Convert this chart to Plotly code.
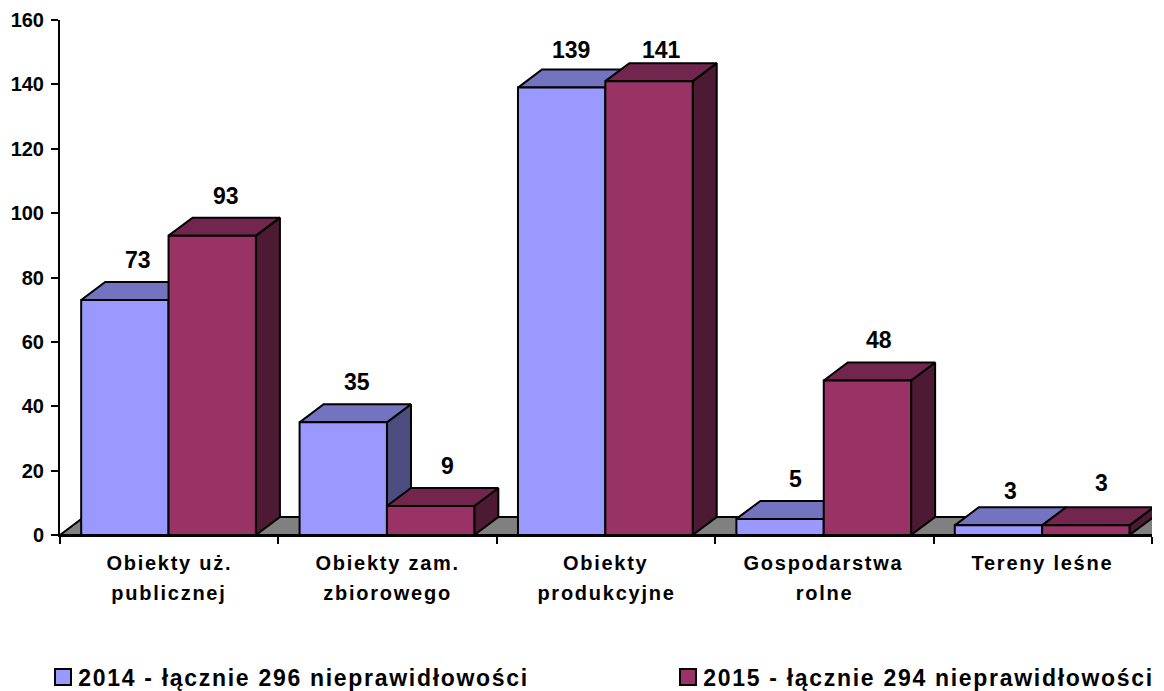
"""Inspection findings per object type, drawn as a pseudo-3D column chart."""

import plotly.graph_objects as go

FONT = "Liberation Sans"

# Data
category_lines = [
    ["Obiekty uż.", "publicznej"],
    ["Obiekty zam.", "zbiorowego"],
    ["Obiekty", "produkcyjne"],
    ["Gospodarstwa", "rolne"],
    ["Tereny leśne"],
]
series_names = [
    "2014 - łącznie 296 nieprawidłowości",
    "2015 - łącznie 294 nieprawidłowości",
]
values_2014 = [73, 35, 139, 5, 3]
values_2015 = [93, 9, 141, 48, 3]
y_ticks = [0, 20, 40, 60, 80, 100, 120, 140, 160]

# Colours per series: front, top, side
colors_2014 = ("#9999FF", "#7373BF", "#4D4D80")
colors_2015 = ("#993366", "#73264D", "#4D1A33")

# Plot area in pixels
PLOT_LEFT = 60
PLOT_RIGHT = 1152
PLOT_TOP = 20
PLOT_BOTTOM = 535

# Geometry in axis units (1 category = 218.4 px, 1 y unit = 3.219 px)
BAR_WIDTH = 0.4
BAR_START = 0.097
DEPTH_X = 0.11
DEPTH_Y = 5.6
LINE = {"color": "black", "width": 2}

# Legend swatch and text extents in pixels
legend_swatches = [(55, 71), (680, 696)]
legend_text_centers = [303, 928]
LEGEND_TOP = 669
LEGEND_BOTTOM = 685

LABEL_SIZE = 23
CATEGORY_SIZE = 20
LEGEND_SIZE = 23


def paper_x(px):
    return (px - PLOT_LEFT) / (PLOT_RIGHT - PLOT_LEFT)


def paper_y(px):
    return (PLOT_BOTTOM - px) / (PLOT_BOTTOM - PLOT_TOP)


def polygon(xs, ys, color):
    """Filled outline drawn in data coordinates."""
    return go.Scatter(
        x=xs + xs[:1],
        y=ys + ys[:1],
        mode="lines",
        fill="toself",
        fillcolor=color,
        line=LINE,
        cliponaxis=False,
        showlegend=False,
        hoverinfo="skip",
    )


def add_bar(fig, x0, value, colors):
    """Side, top and front faces of one column."""
    x1 = x0 + BAR_WIDTH
    front, top, side = colors
    fig.add_trace(
        polygon(
            [x1, x1 + DEPTH_X, x1 + DEPTH_X, x1],
            [0, DEPTH_Y, value + DEPTH_Y, value],
            side,
        )
    )
    fig.add_trace(
        polygon(
            [x0, x0 + DEPTH_X, x1 + DEPTH_X, x1],
            [value, value + DEPTH_Y, value + DEPTH_Y, value],
            top,
        )
    )
    fig.add_trace(polygon([x0, x0, x1, x1], [0, value, value, 0], front))


fig = go.Figure()

# Floor runs past the right edge of the page, as in the source chart
fig.add_trace(
    polygon(
        [0, DEPTH_X, 5 + DEPTH_X, 5],
        [0, DEPTH_Y, DEPTH_Y, 0],
        "#808080",
    )
)

for i in range(len(category_lines)):
    add_bar(fig, i + BAR_START, values_2014[i], colors_2014)
    add_bar(fig, i + BAR_START + BAR_WIDTH, values_2015[i], colors_2015)

annotations = []

# Value labels; the defaults sit 22 px above the back edge of the top face
label_gap = {(0, 2): 20, (1, 2): 13, (0, 4): 16, (1, 4): 24}
label_xshift = {
    (0, 0): 1,
    (1, 0): 2,
    (0, 1): 2,
    (1, 1): 5,
    (0, 2): -3,
    (0, 3): 3,
    (1, 4): 4,
}
for s, values in enumerate((values_2014, values_2015)):
    for i, value in enumerate(values):
        annotations.append(
            {
                "x": i + BAR_START + BAR_WIDTH * (s + 0.5) + DEPTH_X / 2,
                "y": value + DEPTH_Y,
                "xshift": label_xshift.get((s, i), 0),
                "yshift": label_gap.get((s, i), 22),
                "text": str(value),
                "showarrow": False,
                "yanchor": "middle",
                "font": {"size": LABEL_SIZE, "weight": "bold"},
            }
        )

# Category labels, one annotation per line for the wide leading
for i, lines in enumerate(category_lines):
    for n, line in enumerate(lines):
        annotations.append(
            {
                "x": i + 0.5,
                "y": 0,
                "yshift": -28 - 30 * n,
                "text": line,
                "showarrow": False,
                "yanchor": "middle",
                "font": {"size": CATEGORY_SIZE, "weight": "bold"},
            }
        )

# Legend row sits at fixed places under the plot
shapes = []
for name, swatch, center, colors in zip(
    series_names, legend_swatches, legend_text_centers, (colors_2014, colors_2015)
):
    shapes.append(
        {
            "type": "rect",
            "xref": "paper",
            "yref": "paper",
            "x0": paper_x(swatch[0]),
            "x1": paper_x(swatch[1]),
            "y0": paper_y(LEGEND_BOTTOM),
            "y1": paper_y(LEGEND_TOP),
            "fillcolor": colors[0],
            "line": {"color": "black", "width": 2},
        }
    )
    annotations.append(
        {
            "x": paper_x(center),
            "xref": "paper",
            "y": paper_y((LEGEND_TOP + LEGEND_BOTTOM) / 2 + 1),
            "yref": "paper",
            "text": name,
            "showarrow": False,
            "xanchor": "center",
            "yanchor": "middle",
            "font": {"size": LEGEND_SIZE, "weight": "bold"},
        }
    )

fig.update_layout(
    width=1164,
    height=691,
    margin={
        "l": PLOT_LEFT,
        "r": 1164 - PLOT_RIGHT,
        "t": PLOT_TOP,
        "b": 691 - PLOT_BOTTOM,
    },
    paper_bgcolor="white",
    plot_bgcolor="white",
    font={"family": FONT, "color": "black"},
    annotations=annotations,
    shapes=shapes,
    showlegend=False,
    xaxis={
        "range": [0, 5],
        "automargin": False,
        "tickvals": [0, 1, 2, 3, 4, 5],
        "showticklabels": False,
        "ticks": "outside",
        "ticklen": 7,
        "tickwidth": 2,
        "tickcolor": "black",
        "showgrid": False,
        "zeroline": False,
        "showline": True,
        "linecolor": "black",
        "linewidth": 2,
    },
    yaxis={
        "range": [0, 160],
        "automargin": False,
        "tickvals": y_ticks,
        "ticks": "outside",
        "ticklen": 7,
        "tickwidth": 2,
        "tickcolor": "black",
        "tickfont": {"size": 20, "weight": "bold"},
        "ticklabelstandoff": 3,
        "showgrid": False,
        "zeroline": False,
        "showline": True,
        "linecolor": "black",
        "linewidth": 2,
    },
)

# The source text is set wider than the font; plotly has no letter spacing option
post_script = f"""
document.body.style.margin = '0';
document.querySelectorAll('.annotation-text').forEach(function (t) {{
  var spacing = {{'{CATEGORY_SIZE}px': '1.75px'}}[t.style.fontSize];
  if (t.textContent.indexOf('nieprawid') >= 0) spacing = '1.7px';
  if (spacing) t.style.letterSpacing = spacing;
}});
"""

fig.write_html("out.html", config={"displayModeBar": False}, post_script=post_script)
